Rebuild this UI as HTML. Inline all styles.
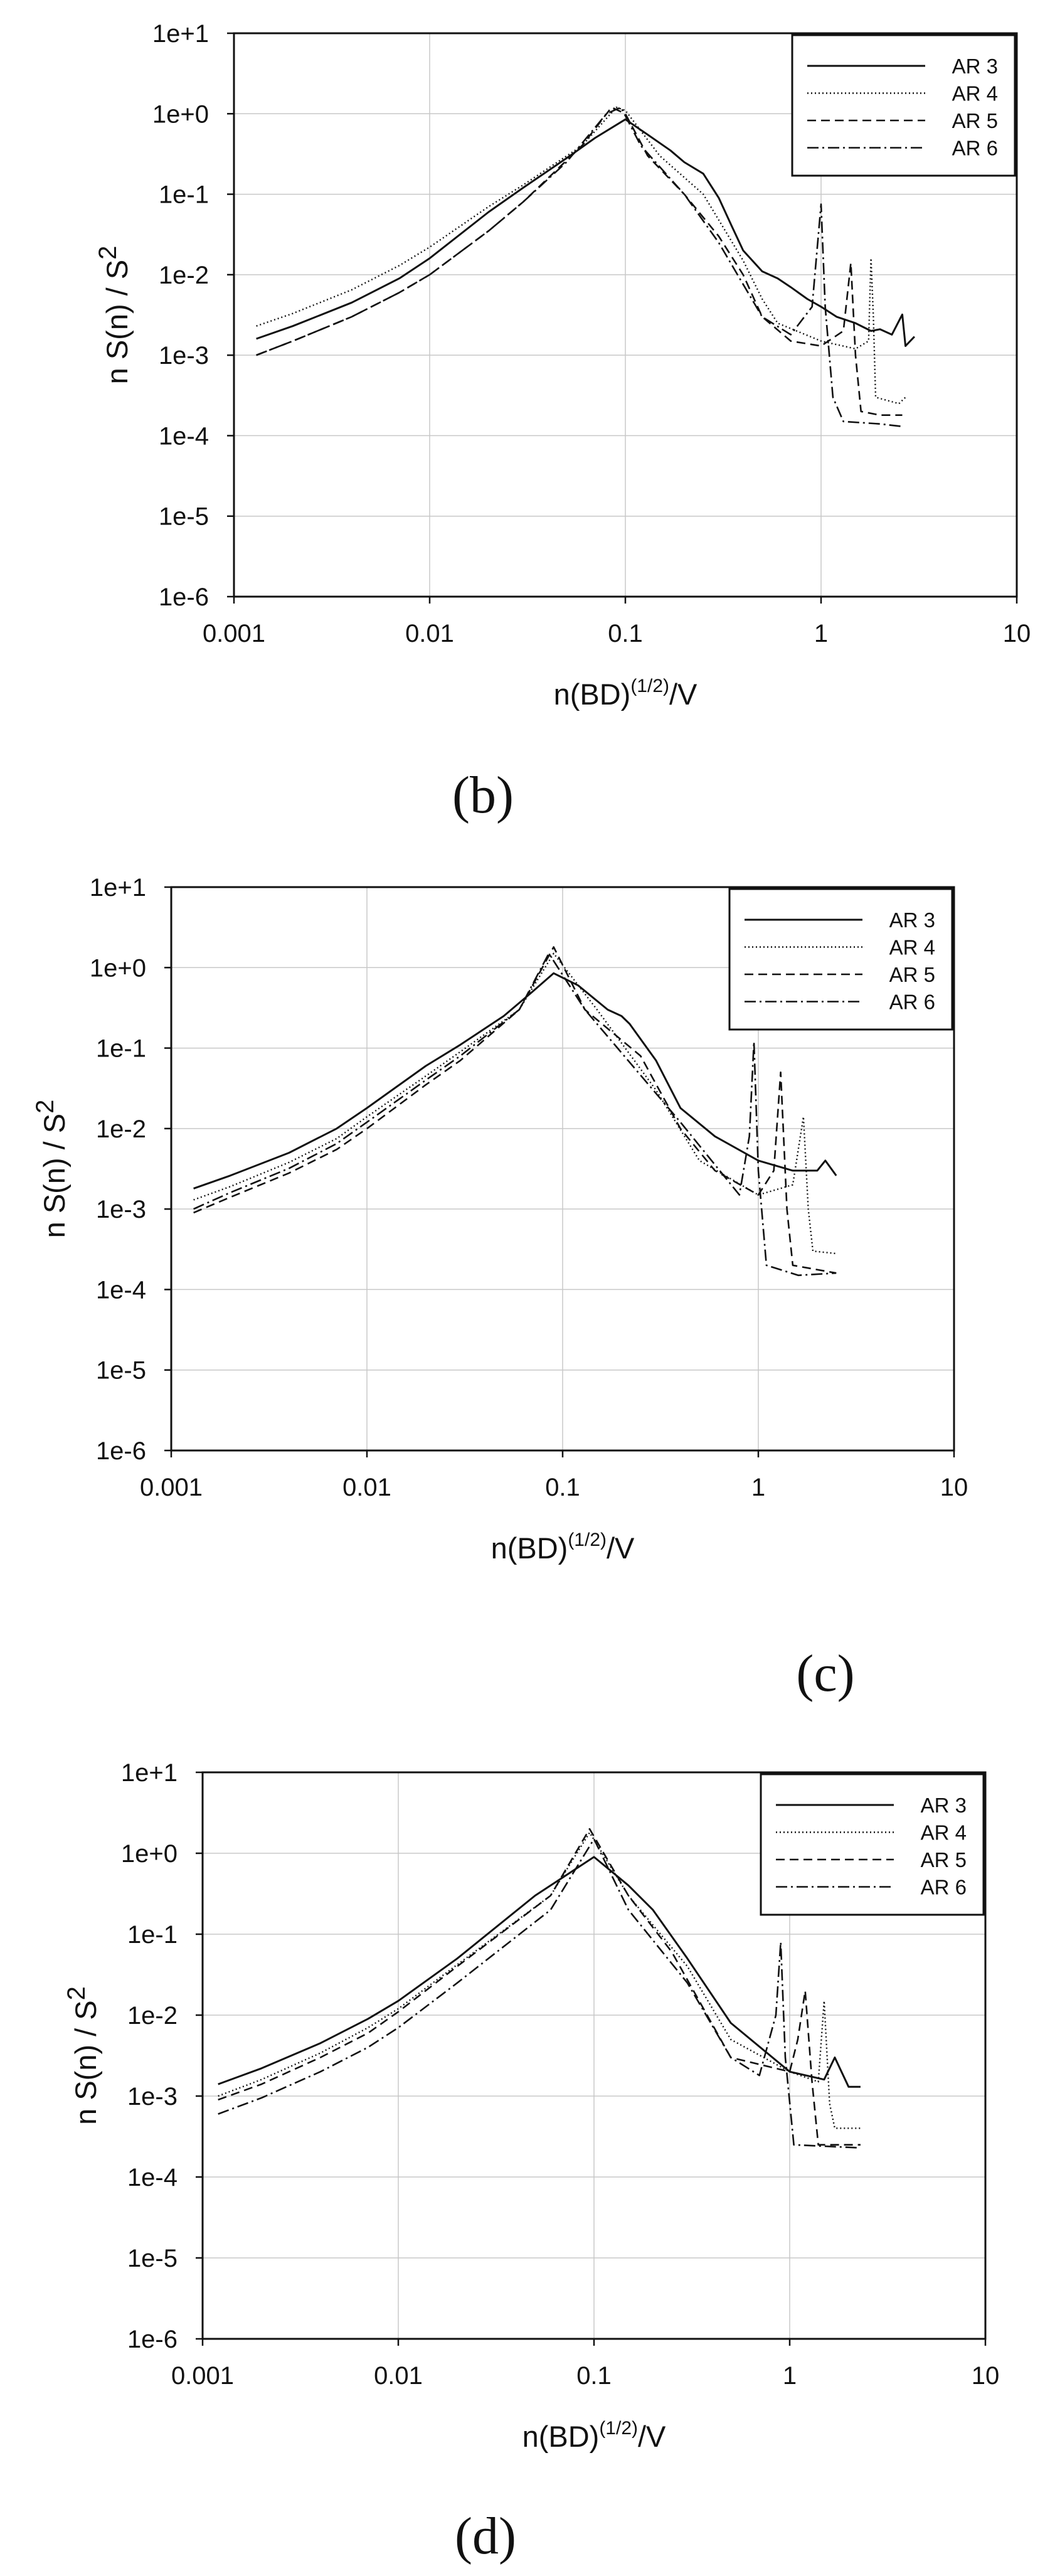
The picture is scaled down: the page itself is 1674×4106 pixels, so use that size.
<!DOCTYPE html>
<html><head><meta charset="utf-8">
<style>
html,body{margin:0;padding:0;background:#fff;}
svg{display:block;}
text{font-family:"Liberation Sans",Arial,sans-serif;fill:#111;}
.cap{font-family:"Liberation Serif",serif;}
</style></head>
<body>
<svg id="fig" width="1674" height="4106" viewBox="0 0 1674 4106" xmlns="http://www.w3.org/2000/svg"></svg>
<script>
// ---------- data (x = n(BD)^(1/2)/V, y = nS(n)/S^2) ----------
const xTickLabels = ["0.001","0.01","0.1","1","10"];
const yTickLabels = ["1e+1","1e+0","1e-1","1e-2","1e-3","1e-4","1e-5","1e-6"];
const seriesNames = ["AR 3","AR 4","AR 5","AR 6"];

// panel (b)
const b_ar3_x = [0.0013,0.002,0.004,0.007,0.01,0.02,0.03,0.05,0.07,0.1,0.13,0.17,0.2,0.25,0.3,0.35,0.4,0.5,0.6,0.7,0.85,1.0,1.2,1.5,1.8,2.0,2.3,2.6,2.7,3.0];
const b_ar3_y = [1.6e-3,2.3e-3,4.5e-3,9e-3,1.6e-2,6e-2,1.2e-1,2.8e-1,5e-1,8.5e-1,5.5e-1,3.5e-1,2.5e-1,1.8e-1,9e-2,4e-2,2e-2,1.1e-2,9e-3,7e-3,5e-3,4e-3,3e-3,2.5e-3,2e-3,2.1e-3,1.8e-3,3.2e-3,1.3e-3,1.7e-3];
const b_ar4_x = [0.0013,0.002,0.004,0.007,0.01,0.02,0.03,0.06,0.09,0.1,0.15,0.25,0.4,0.5,0.6,1.0,1.5,1.75,1.8,1.85,1.9,2.5,2.7];
const b_ar4_y = [2.3e-3,3.3e-3,6.5e-3,1.3e-2,2.2e-2,7e-2,1.3e-1,4e-1,1.2,1.1,3e-1,1e-1,1.5e-2,5e-3,2.5e-3,1.5e-3,1.2e-3,1.5e-3,1.6e-2,3e-3,3e-4,2.5e-4,3e-4];
const b_ar5_x = [0.0013,0.002,0.004,0.007,0.01,0.02,0.03,0.06,0.085,0.1,0.13,0.2,0.3,0.4,0.5,0.7,1.0,1.3,1.42,1.5,1.6,2.0,2.6];
const b_ar5_y = [1.0e-3,1.5e-3,3e-3,6e-3,1e-2,3.5e-2,8e-2,4e-1,1.2,1.0,3e-1,1e-1,3e-2,1e-2,3e-3,1.5e-3,1.3e-3,2e-3,1.4e-2,1e-3,2e-4,1.8e-4,1.8e-4];
const b_ar6_x = [0.0013,0.002,0.004,0.007,0.01,0.02,0.03,0.05,0.08,0.095,0.12,0.2,0.3,0.5,0.7,0.9,1.0,1.05,1.15,1.3,2.0,2.6];
const b_ar6_y = [1.0e-3,1.5e-3,3e-3,6e-3,1e-2,3.5e-2,8e-2,2.5e-1,1.0,1.2,4e-1,1e-1,2.5e-2,3e-3,1.8e-3,4e-3,7.5e-2,4e-3,3e-4,1.5e-4,1.4e-4,1.3e-4];

// panel (c)
const c_ar3_x = [0.0013,0.002,0.004,0.007,0.01,0.02,0.03,0.05,0.07,0.09,0.12,0.17,0.2,0.22,0.3,0.4,0.6,1.0,1.5,2.0,2.2,2.5];
const c_ar3_y = [1.8e-3,2.6e-3,5e-3,1e-2,1.8e-2,6e-2,1.1e-1,2.5e-1,5e-1,8.5e-1,6e-1,3e-1,2.5e-1,2e-1,7e-2,1.8e-2,8e-3,4e-3,3e-3,3e-3,4e-3,2.6e-3];
const c_ar4_x = [0.0013,0.002,0.004,0.007,0.01,0.02,0.03,0.06,0.09,0.15,0.3,0.5,1.0,1.5,1.7,1.8,1.9,2.5];
const c_ar4_y = [1.3e-3,1.9e-3,3.8e-3,7.5e-3,1.4e-2,4.5e-2,9e-2,3e-1,1.5,3e-1,3e-2,4e-3,1.5e-3,2e-3,1.4e-2,1e-3,3e-4,2.8e-4];
const c_ar5_x = [0.0013,0.002,0.004,0.007,0.01,0.02,0.03,0.06,0.09,0.13,0.25,0.4,0.6,1.0,1.2,1.3,1.4,1.5,2.5];
const c_ar5_y = [9e-4,1.4e-3,2.8e-3,5.5e-3,1e-2,3.5e-2,7e-2,3e-1,1.8,3e-1,8e-2,1e-2,3e-3,1.5e-3,3e-3,5e-2,1e-3,2e-4,1.6e-4];
const c_ar6_x = [0.0013,0.002,0.004,0.007,0.01,0.02,0.03,0.06,0.085,0.13,0.4,0.8,0.9,0.95,1.0,1.1,1.6,2.5];
const c_ar6_y = [1e-3,1.6e-3,3.2e-3,6.5e-3,1.2e-2,4e-2,8e-2,3e-1,1.5,3e-1,1.2e-2,1.5e-3,8e-3,1.2e-1,3e-3,2e-4,1.5e-4,1.6e-4];

// panel (d)
const d_ar3_x = [0.0012,0.002,0.004,0.007,0.01,0.02,0.05,0.1,0.15,0.2,0.3,0.5,1.0,1.5,1.7,2.0,2.3];
const d_ar3_y = [1.4e-3,2.2e-3,4.5e-3,9e-3,1.5e-2,5e-2,3e-1,9e-1,4e-1,2e-1,5e-2,8e-3,2e-3,1.6e-3,3e-3,1.3e-3,1.3e-3];
const d_ar4_x = [0.0012,0.002,0.004,0.007,0.01,0.02,0.06,0.095,0.15,0.3,0.5,1.0,1.4,1.5,1.6,1.7,2.3];
const d_ar4_y = [1e-3,1.6e-3,3.4e-3,7e-3,1.2e-2,4.2e-2,3e-1,1.8,3e-1,4e-2,5e-3,2e-3,1.5e-3,1.5e-2,8e-4,4e-4,4e-4];
const d_ar5_x = [0.0012,0.002,0.004,0.007,0.01,0.02,0.06,0.095,0.15,0.25,0.5,1.0,1.1,1.2,1.3,1.4,2.3];
const d_ar5_y = [9e-4,1.4e-3,3e-3,6e-3,1.1e-2,4e-2,3e-1,2.0,3e-1,6e-2,3e-3,2e-3,5e-3,2e-2,1.5e-3,2.5e-4,2.5e-4];
const d_ar6_x = [0.0012,0.002,0.004,0.007,0.01,0.02,0.06,0.1,0.15,0.3,0.5,0.7,0.85,0.9,0.95,1.05,2.2];
const d_ar6_y = [6e-4,9.5e-4,2e-3,4e-3,7e-3,2.5e-2,2e-1,1.5,2e-1,2.5e-2,3e-3,1.8e-3,1e-2,8e-2,3e-3,2.5e-4,2.3e-4];

const NS="http://www.w3.org/2000/svg";
const svg=document.getElementById('fig');
function mk(tag,attrs,parent){const e=document.createElementNS(NS,tag);for(const k in attrs)e.setAttribute(k,attrs[k]);(parent||svg).appendChild(e);return e;}

const dashes=["none","2,4","14,8","18,6,3,6"];
const widths=[3,2.4,2.6,2.6];

function panel(id,L,T,R,B,xs,ys,cap,capX,capY){
  const g=mk('g',{});
  
  
  const xf=v=>L+(Math.log10(v)+3)/4*(R-L);
  const yf=v=>T+(1-Math.log10(v))/7*(B-T);
  for(let i=1;i<4;i++){const x=xf(Math.pow(10,i-3));
    const gl=mk('line',{x1:x,y1:T,x2:x,y2:B,stroke:'#c8c8c8','stroke-width':1.5},g);
    
    }
  for(let i=1;i<7;i++){const y=T+i*(B-T)/7;
    const gl=mk('line',{x1:L,y1:y,x2:R,y2:y,stroke:'#c8c8c8','stroke-width':1.5},g);
    
    }
  const fr=mk('rect',{x:L,y:T,width:R-L,height:B-T,fill:'none',stroke:'#111','stroke-width':3},g);
  
  
  xTickLabels.forEach((t,i)=>{const x=xf(parseFloat(t));
    mk('line',{x1:x,y1:B,x2:x,y2:B+11,stroke:'#111','stroke-width':2.5},g);
    const tx=mk('text',{x:x,y:B+72,'text-anchor':'middle','font-size':40},g);tx.textContent=t;
    
    });
  yTickLabels.forEach((t,i)=>{const y=yf(parseFloat(t));
    mk('line',{x1:L-11,y1:y,x2:L,y2:y,stroke:'#111','stroke-width':2.5},g);
    const tx=mk('text',{x:L-40,y:y+14,'text-anchor':'end','font-size':40},g);tx.textContent=t;
    
    });
  for(let s=0;s<4;s++){
    const d=xs[s].map((v,i)=>(i?'L':'M')+xf(v).toFixed(1)+' '+yf(ys[s][i]).toFixed(1)).join(' ');
    const p=mk('path',{d:d,fill:'none',stroke:'#111','stroke-width':widths[s],'stroke-dasharray':dashes[s],'stroke-linejoin':'round'},g);
    
    
  }
  const lg=mk('g',{},g);
  
  
  const lx=R-358, ly=T+3;
  mk('rect',{x:lx,y:ly,width:355,height:224,fill:'#fff',stroke:'#111','stroke-width':3},lg);
  seriesNames.forEach((n,s)=>{const y=ly+49+s*43.5;
    const ln=mk('line',{x1:lx+24,y1:y,x2:lx+212,y2:y,stroke:'#111','stroke-width':widths[s],'stroke-dasharray':dashes[s]},lg);
    
    
    const tx=mk('text',{x:lx+328,y:y+12,'text-anchor':'end','font-size':33},lg);tx.textContent=n;
    
    });
  const yt=mk('text',{x:0,y:0,'text-anchor':'middle','font-size':47,transform:`translate(${L-170},${(T+B)/2}) rotate(-90)`},g);
  yt.innerHTML='n S(n) / S<tspan dy="-18" font-size="40">2</tspan>';
  
  
  const xt=mk('text',{x:xf(0.1),y:B+172,'text-anchor':'middle','font-size':47},g);
  xt.innerHTML='n(BD)<tspan dy="-20" font-size="30">(1/2)</tspan><tspan dy="20">/V</tspan>';
  
  
  const ct=mk('text',{x:capX,y:capY,'text-anchor':'middle','font-size':84,'class':'cap'},g);ct.textContent=cap;
  
  
}
panel('b',373,53,1621,951,[b_ar3_x,b_ar4_x,b_ar5_x,b_ar6_x],[b_ar3_y,b_ar4_y,b_ar5_y,b_ar6_y],'(b)',770,1295);
panel('c',273,1414,1521,2312,[c_ar3_x,c_ar4_x,c_ar5_x,c_ar6_x],[c_ar3_y,c_ar4_y,c_ar5_y,c_ar6_y],'(c)',1316,2695);
panel('d',323,2825,1571,3728,[d_ar3_x,d_ar4_x,d_ar5_x,d_ar6_x],[d_ar3_y,d_ar4_y,d_ar5_y,d_ar6_y],'(d)',774,4070);
</script>
</body></html>
